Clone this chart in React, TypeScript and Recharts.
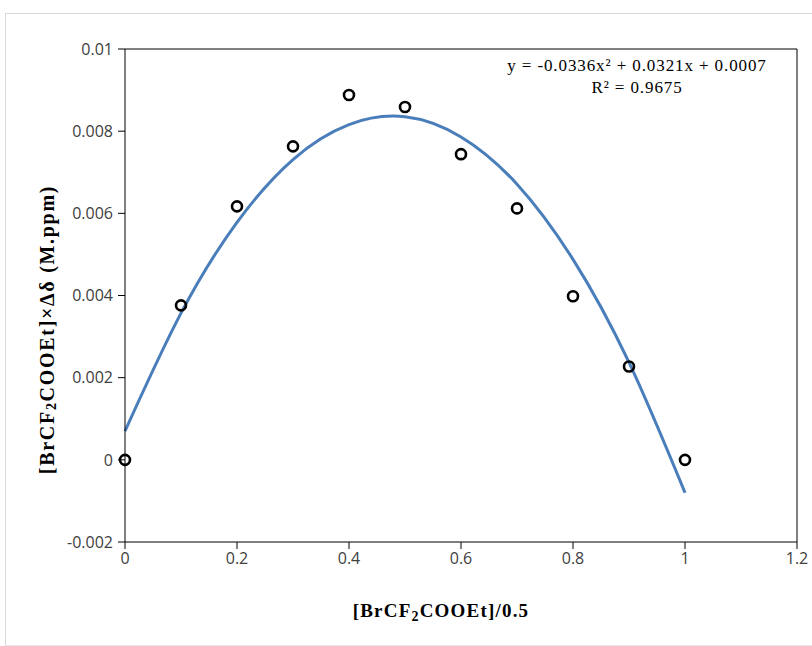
import { ComposedChart, Line, Scatter, XAxis, YAxis, ReferenceLine, Label } from "recharts";

// x = [BrCF2COOEt]/0.5
const ratio = [0, 0.1, 0.2, 0.3, 0.4, 0.5, 0.6, 0.7, 0.8, 0.9, 1.0];
// measured [BrCF2COOEt]×Δδ (M.ppm)
const measured = [0, 0.00376, 0.00617, 0.00763, 0.00888, 0.00859, 0.00744, 0.00612, 0.00398, 0.00227, 0];
// polynomial trendline read at the same x positions
const trend = [0.0007, 0.00357, 0.00578, 0.00731, 0.00816, 0.00835, 0.00786, 0.00671, 0.00488, 0.00237, -0.0008];

const xTicks = [0, 0.2, 0.4, 0.6, 0.8, 1, 1.2];
const yTicks = [-0.002, 0, 0.002, 0.004, 0.006, 0.008, 0.01];

const rows = ratio.map((x, i) => ({ x, obs: measured[i], fit: trend[i] }));

const tickFont = { fill: "#404040", fontSize: 16, fontFamily: "'Open Sans', sans-serif" };
const serif = "'Liberation Serif', 'Times New Roman', serif";

const OpenCircle = (props: any) => (
  <circle cx={props.cx} cy={props.cy} r={5} fill="none" stroke="#000" strokeWidth={2.6} />
);

const YTitle = ({ viewBox }: any) => {
  const cx = viewBox.x - 18;
  const cy = viewBox.y + viewBox.height / 2 + 34;
  return (
    <text
      x={cx}
      y={cy}
      transform={`rotate(-90 ${cx} ${cy})`}
      textAnchor="middle"
      dominantBaseline="central"
      fontFamily={serif}
      fontWeight="bold"
      fontSize={20}
      letterSpacing={1.7}
      fill="#000"
    >
      [BrCF<tspan fontSize={14} dy={4}>2</tspan>
      <tspan dy={-4}>COOEt]×Δδ (M.ppm)</tspan>
    </text>
  );
};

const XTitle = ({ viewBox }: any) => {
  const cx = viewBox.x + viewBox.width / 2 - 20;
  const cy = viewBox.y + 75;
  return (
    <text
      x={cx}
      y={cy}
      textAnchor="middle"
      fontFamily={serif}
      fontWeight="bold"
      fontSize={19}
      letterSpacing={1.2}
      fill="#000"
    >
      [BrCF<tspan fontSize={14} dy={4}>2</tspan>
      <tspan dy={-4}>COOEt]/0.5</tspan>
    </text>
  );
};

export default function App() {
  return (
    <div style={{ position: "absolute", left: 0, top: 0, width: 812, height: 646, background: "#fff", overflow: "hidden" }}>
      <div
        style={{
          position: "absolute",
          left: 5,
          top: 13,
          width: 830,
          height: 631,
          borderLeft: "1px solid #d9d9d9",
          borderTop: "1px solid #d9d9d9",
          borderBottom: "1px solid #e6e6e6",
        }}
      />
      <div style={{ position: "absolute", left: 0, top: 0 }}>
        <ComposedChart width={812} height={646} data={rows} margin={{ top: 49, right: 15, bottom: 74, left: 65 }}>
          <XAxis
            dataKey="x"
            type="number"
            domain={[0, 1.2]}
            ticks={xTicks}
            tick={tickFont}
            tickSize={7}
            tickMargin={4}
            height={30}
            stroke="#000"
            axisLine={{ stroke: "#000" }}
            tickLine={{ stroke: "#000" }}
          >
            <Label content={<XTitle />} />
          </XAxis>
          <YAxis
            type="number"
            domain={[-0.002, 0.01]}
            ticks={yTicks}
            tick={tickFont}
            tickSize={7}
            tickMargin={5}
            width={60}
            axisLine={{ stroke: "#000" }}
            tickLine={{ stroke: "#000" }}
          >
            <Label content={<YTitle />} />
          </YAxis>
          <ReferenceLine y={0.01} stroke="#000" />
          <ReferenceLine x={1.2} stroke="#000" />
          <Line
            dataKey="fit"
            type="natural"
            stroke="#4a7ebb"
            strokeWidth={3}
            dot={false}
            activeDot={false}
            isAnimationActive={false}
          />
          <Scatter dataKey="obs" shape={<OpenCircle />} isAnimationActive={false} />
        </ComposedChart>
      </div>
      <div
        style={{
          position: "absolute",
          left: 437,
          top: 55,
          width: 400,
          textAlign: "center",
          fontFamily: serif,
          fontSize: 17,
          letterSpacing: 0.9,
          lineHeight: "22px",
          color: "#000",
        }}
      >
        <div>y = -0.0336x² + 0.0321x + 0.0007</div>
        <div>R² = 0.9675</div>
      </div>
    </div>
  );
}
